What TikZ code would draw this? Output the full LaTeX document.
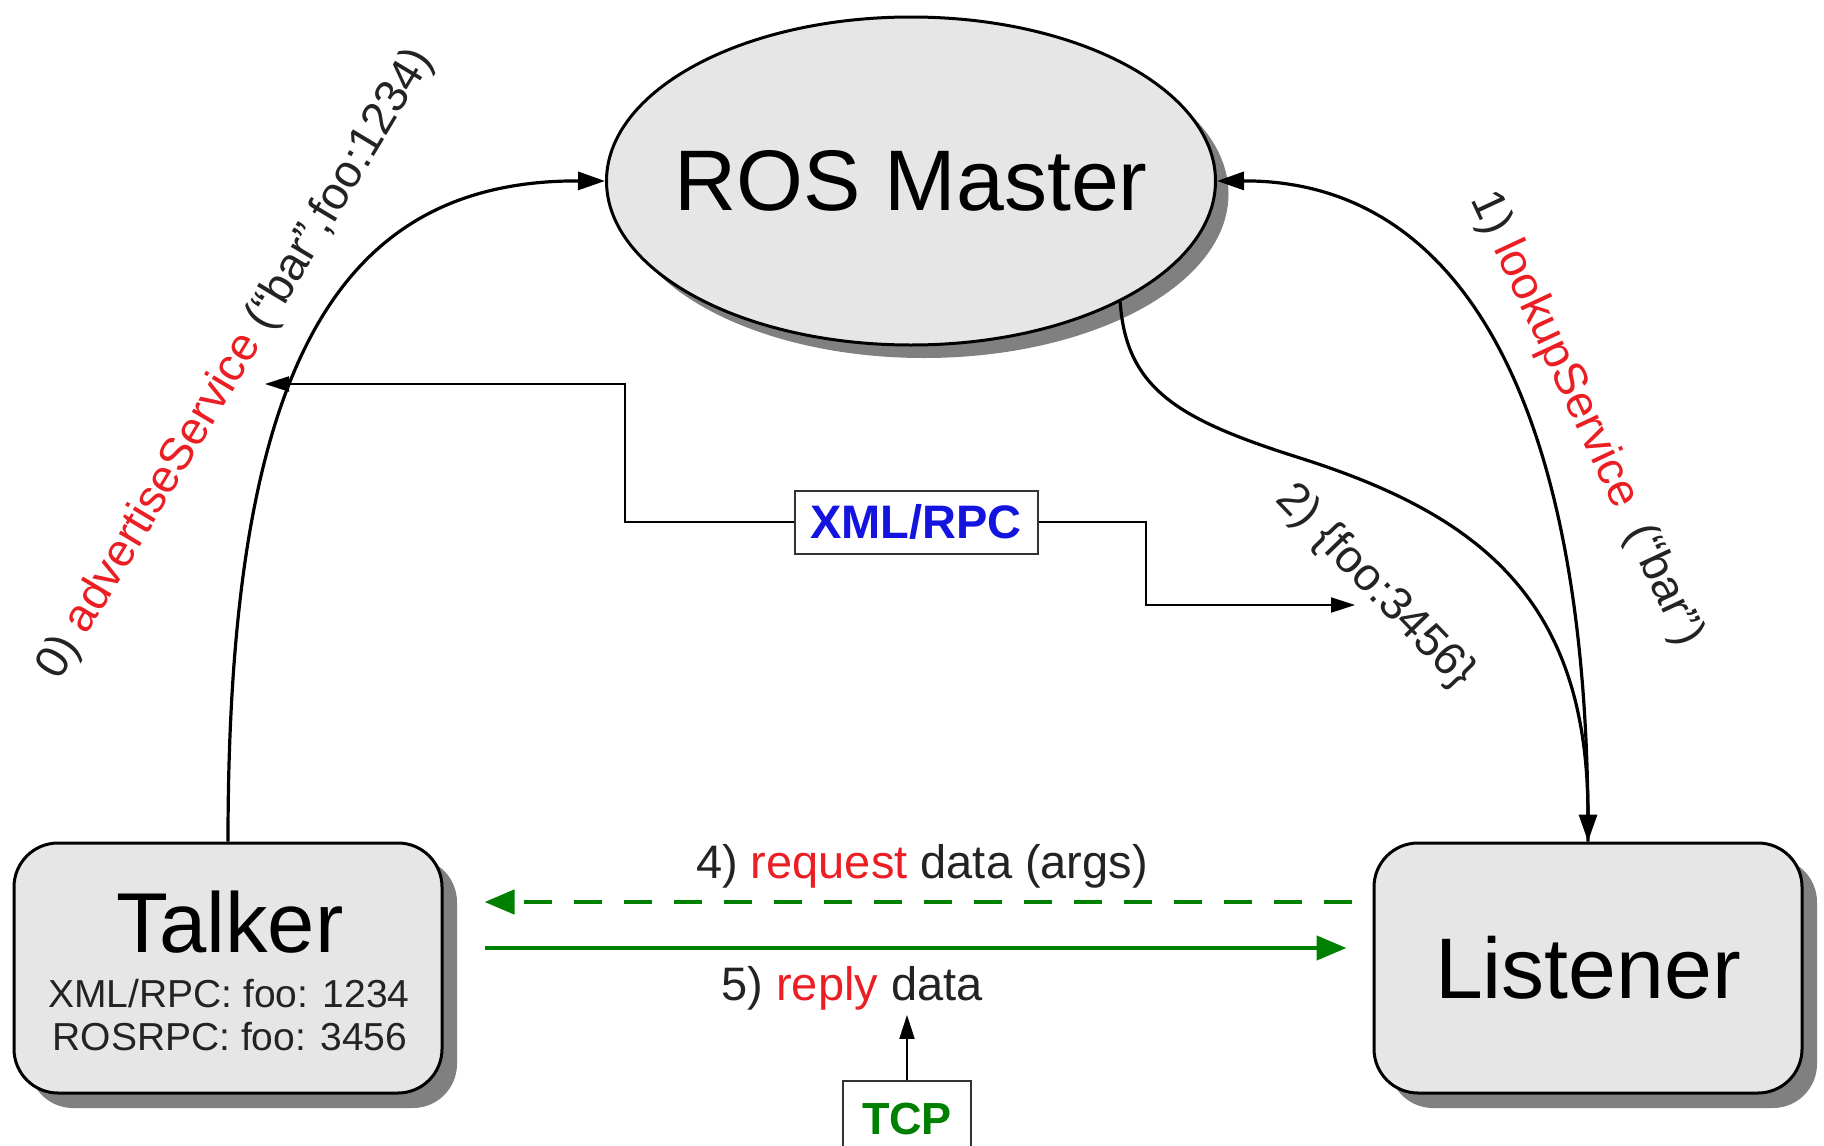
\documentclass[tikz,border=0pt]{standalone}
\usepackage{fontspec}
\setmainfont{Liberation Sans}
\usetikzlibrary{arrows.meta,shapes.geometric,shadows,calc}
\definecolor{nodefill}{RGB}{230,230,230}
\definecolor{shadowgray}{RGB}{128,128,128}
\definecolor{lblred}{RGB}{235,30,35}
\definecolor{xmlblue}{RGB}{20,20,225}
\definecolor{tcpgreen}{RGB}{0,128,0}
\definecolor{txtdark}{RGB}{35,35,35}
\newcommand{\myfs}[1]{\fontsize{#1pt}{#1pt}\selectfont}
\begin{document}
\begin{tikzpicture}[x=1pt,y=-1pt,
  boxnode/.style={draw=black, line width=3pt, fill=nodefill, rounded corners=44pt,
    minimum width=428pt, minimum height=250pt, inner sep=0pt,
    drop shadow={shadow xshift=15pt, shadow yshift=-15pt, fill=shadowgray, opacity=1}},
  masternode/.style={ellipse, draw=black, line width=3pt, fill=nodefill,
    minimum width=609pt, minimum height=328pt, inner sep=0pt,
    drop shadow={shadow xshift=13pt, shadow yshift=-13pt, fill=shadowgray, opacity=1}},
  conn/.style={line width=3.2pt, -{Triangle[length=27pt,width=18pt]}},
  thinconn/.style={line width=2pt, -{Triangle[length=24pt,width=15pt]}},
  greenconn/.style={draw=tcpgreen, line width=4.5pt, -{Triangle[length=30pt,width=24pt]}},
  lbl/.style={text=txtdark, font={\myfs{46}}, inner sep=5pt},
  xmlbox/.style={draw=black!80, line width=2pt, fill=white, minimum width=243pt,
    minimum height=63pt, inner sep=0pt, text=xmlblue, font={\myfs{47}\bfseries}},
  tcpbox/.style={draw=black!80, line width=2pt, fill=white, minimum width=128pt,
    minimum height=76pt, inner sep=0pt, text=tcpgreen, font={\myfs{45}\bfseries}}
]
\useasboundingbox (0,0) rectangle (1824,1146);
\clip (0,0) rectangle (1824,1146);

% main nodes
\node[masternode] (master) at (911,181) {};
\node[font={\myfs{86}}, inner sep=0pt] (mastertext) at (master.center) {ROS Master};
\node[boxnode] (talker) at (228,968) {};
\node[boxnode] (listener) at (1588,968) {\myfs{86}Listener};
\node[anchor=base, font={\myfs{85}}, inner sep=0pt] (talkertitle) at (230,952) {Talker};
\node[anchor=base, font={\myfs{39}}, text=txtdark, inner sep=0pt] (talkerxml) at (229,1007) {XML/RPC: foo: 1234};
\node[anchor=base, font={\myfs{39}}, text=txtdark, inner sep=0pt] (talkerros) at (230,1050) {ROSRPC: foo: 3456};

% curved connectors
\draw[conn] (talker.north) .. controls (228,380) and (330,180) .. (master.west);
\draw[conn] (listener.north) .. controls (1590,420) and (1470,180) .. (master.east);
\draw[conn] (master.-30) .. controls (1126,390) and (1180,420) .. (1300,458)
   .. controls (1480,515) and (1588,600) .. (listener.north);

% rotated labels
\node[lbl, rotate=59] (lbl0) at (236,364) {0) \textcolor{lblred}{advertiseService} (“bar”,foo:1234)};
\node[lbl, rotate=-65] (lbl1) at (1586,419) {1) \textcolor{lblred}{lookupService}\hspace{0.25em} (“bar”)};
\node[lbl, rotate=-46] (lbl2) at (1375,587) {2) \{foo:3456\}};

% XML/RPC
\node[xmlbox] (xml) at (916,522) {XML/RPC};
\coordinate (advtip) at (265,384);
\coordinate (footip) at (1355,605);
\draw[thinconn] (xml.west) -- (625,522) -- (625,384) -- (advtip);
\draw[thinconn] (xml.east) -- (1146,522) -- (1146,605) -- (footip);

% TCP data exchange
\coordinate (reqy) at (0,902);
\coordinate (repy) at (0,948);
\draw[greenconn, dash pattern=on 28pt off 22pt, shorten <=21pt, shorten >=41pt]
  (listener.west |- reqy) -- (talker.east |- reqy);
\draw[greenconn, shorten <=41pt, shorten >=26pt]
  (talker.east |- repy) -- (listener.west |- repy);
\node[lbl, anchor=base, inner sep=0pt, font={\myfs{47}}] (req) at (922,878) {4) \textcolor{lblred}{request} data (args)};
\node[lbl, anchor=base, font={\myfs{47}}] (rep) at (852,1000) {5) \textcolor{lblred}{reply} data};
\node[tcpbox, anchor=north] (tcp) at (907,1080) {TCP};
\draw[thinconn] (tcp.north) -- (rep.south -| tcp.north);
\end{tikzpicture}
\end{document}
